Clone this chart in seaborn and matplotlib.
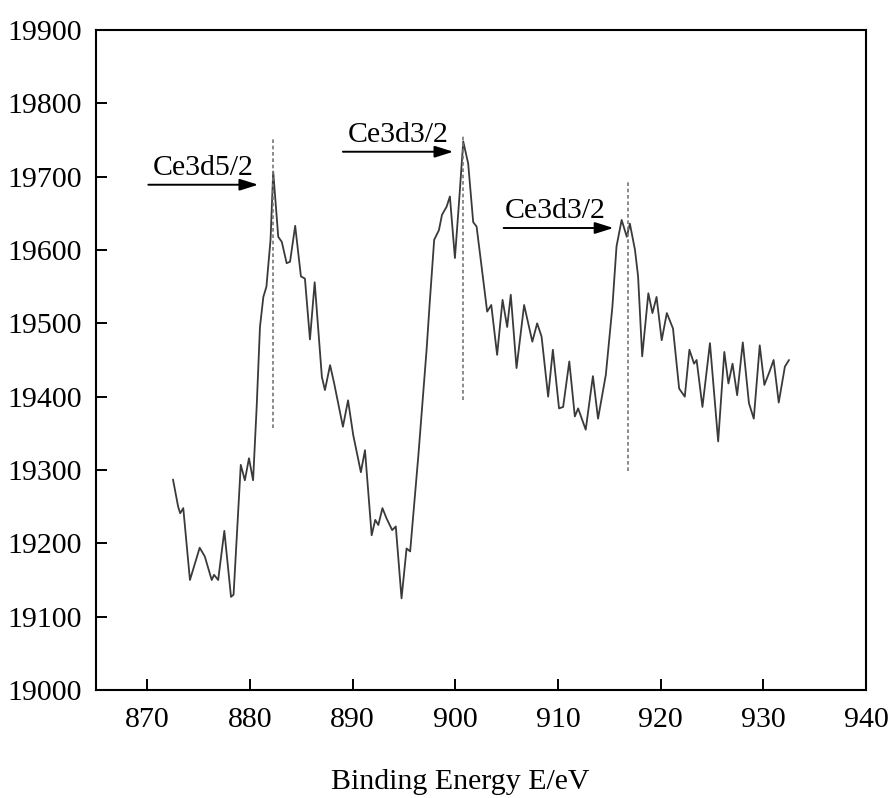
import matplotlib
matplotlib.use("Agg")
import matplotlib.pyplot as plt
import seaborn as sns
import pandas as pd

sns.set_style("white")
plt.rcParams['font.family'] = ['Liberation Serif', 'DejaVu Serif']

energy = [872.5, 873.0, 873.2, 873.5, 874.15, 875.1, 875.6, 876.27, 876.5, 876.9,
          877.5, 878.15, 878.4, 879.1, 879.5, 879.9, 880.3, 880.65, 880.97, 881.3,
          881.6, 882.0, 882.26, 882.75, 883.1, 883.57, 883.9, 884.4, 884.96, 885.35,
          885.84, 886.3, 887.0, 887.3, 887.8, 888.2, 889.05, 889.55, 890.05, 890.8,
          891.2, 891.85, 892.2, 892.5, 892.9, 893.3, 893.85, 894.2, 894.76, 895.25,
          895.6, 896.4, 897.2, 897.5, 897.94, 898.4, 898.7, 899.15, 899.47, 899.96,
          900.4, 900.77, 901.25, 901.74, 902.07, 902.56, 903.1, 903.5, 904.07, 904.6,
          905.05, 905.4, 905.96, 906.7, 907.5, 907.97, 908.4, 909.04, 909.5, 910.1,
          910.5, 911.1, 911.64, 911.96, 912.7, 913.4, 913.9, 914.66, 915.3, 915.7,
          916.2, 916.7, 917.0, 917.5, 917.8, 918.2, 918.8, 919.2, 919.6, 920.1,
          920.6, 921.2, 921.8, 922.35, 922.8, 923.25, 923.5, 924.07, 924.8, 925.6,
          926.2, 926.6, 927.0, 927.45, 928.0, 928.6, 929.07, 929.65, 930.1, 930.6,
          931.0, 931.5, 932.1, 932.5]
intensity = [19287, 19250, 19241, 19248, 19150, 19194, 19182, 19150, 19157, 19150,
             19217, 19127, 19130, 19307, 19286, 19316, 19286, 19386, 19495, 19536,
             19550, 19614, 19707, 19618, 19611, 19582, 19584, 19633, 19564, 19561,
             19478, 19556, 19427, 19409, 19443, 19418, 19359, 19395, 19348, 19297,
             19327, 19211, 19232, 19225, 19248, 19234, 19218, 19223, 19125, 19193,
             19189, 19320, 19464, 19527, 19614, 19627, 19648, 19659, 19673, 19589,
             19673, 19748, 19718, 19638, 19632, 19577, 19516, 19525, 19457, 19532,
             19495, 19539, 19439, 19525, 19475, 19500, 19482, 19400, 19464, 19384,
             19386, 19448, 19373, 19384, 19355, 19428, 19370, 19430, 19523, 19605,
             19641, 19618, 19636, 19600, 19564, 19455, 19541, 19514, 19536, 19477,
             19514, 19493, 19411, 19400, 19464, 19445, 19450, 19386, 19473, 19339,
             19461, 19418, 19445, 19402, 19474, 19391, 19370, 19470, 19416, 19434,
             19450, 19392, 19441, 19450]

x_ticks = [870, 880, 890, 900, 910, 920, 930, 940]
y_ticks = [19000, 19100, 19200, 19300, 19400, 19500, 19600, 19700, 19800, 19900]

peak_labels = ["Ce3d5/2", "Ce3d3/2", "Ce3d3/2"]
peak_pos = [882.25, 900.7, 916.8]
peak_line_top = [19753, 19755, 19695]
peak_line_bottom = [19357, 19395, 19298]
arrow_start = [870.1, 889.05, 904.7]
arrow_end = [880.8, 899.8, 915.4]
arrow_y = [19689, 19734, 19630]
label_x = [875.4, 894.4, 909.7]
label_y = [19702, 19747, 19643]

df = pd.DataFrame({"E": energy, "I": intensity})

fig = plt.figure(figsize=(8.9, 7.98), dpi=100)
ax = fig.add_axes([96/890, 1-690/798, (866-96)/890, (690-30)/798])

sns.lineplot(data=df, x="E", y="I", ax=ax, color="#3a3a3a", lw=1.3, sort=False)

ax.vlines(peak_pos, peak_line_bottom, peak_line_top, colors="#777777",
          linestyles=(0, (2.2, 1.6)), lw=1.2)

for lab, xs, xe, ya, lx, ly in zip(peak_labels, arrow_start, arrow_end, arrow_y, label_x, label_y):
    ax.annotate("", xy=(xe, ya), xytext=(xs, ya),
                arrowprops=dict(arrowstyle="-|>,head_length=0.7,head_width=0.22",
                                color="black", lw=1.4, shrinkA=0, shrinkB=0,
                                mutation_scale=16))
    ax.text(lx, ly, lab, ha="center", va="baseline", fontsize=21.5, color="black")

ax.set_xlim(865, 940)
ax.set_ylim(19000, 19900)
ax.set_xticks(x_ticks)
ax.set_yticks(y_ticks)
ax.set_xticklabels([str(t) for t in x_ticks])
ax.set_yticklabels([str(t) for t in y_ticks])
ax.tick_params(axis='both', direction='in', length=8, width=1.4, labelsize=21.5,
               colors='black', bottom=True, left=True, top=False, right=False)
ax.tick_params(axis='x', pad=12)
ax.tick_params(axis='y', pad=10)
for s in ax.spines.values():
    s.set_visible(True)
    s.set_color('black')
    s.set_linewidth(1.5)
ax.set_xlabel("")
ax.set_ylabel("")

fig.text(460/890, 9/798, "Binding Energy E/eV", ha="center", va="baseline",
         fontsize=21.5, color="black")

fig.savefig("out.png", dpi=100, facecolor="white")
